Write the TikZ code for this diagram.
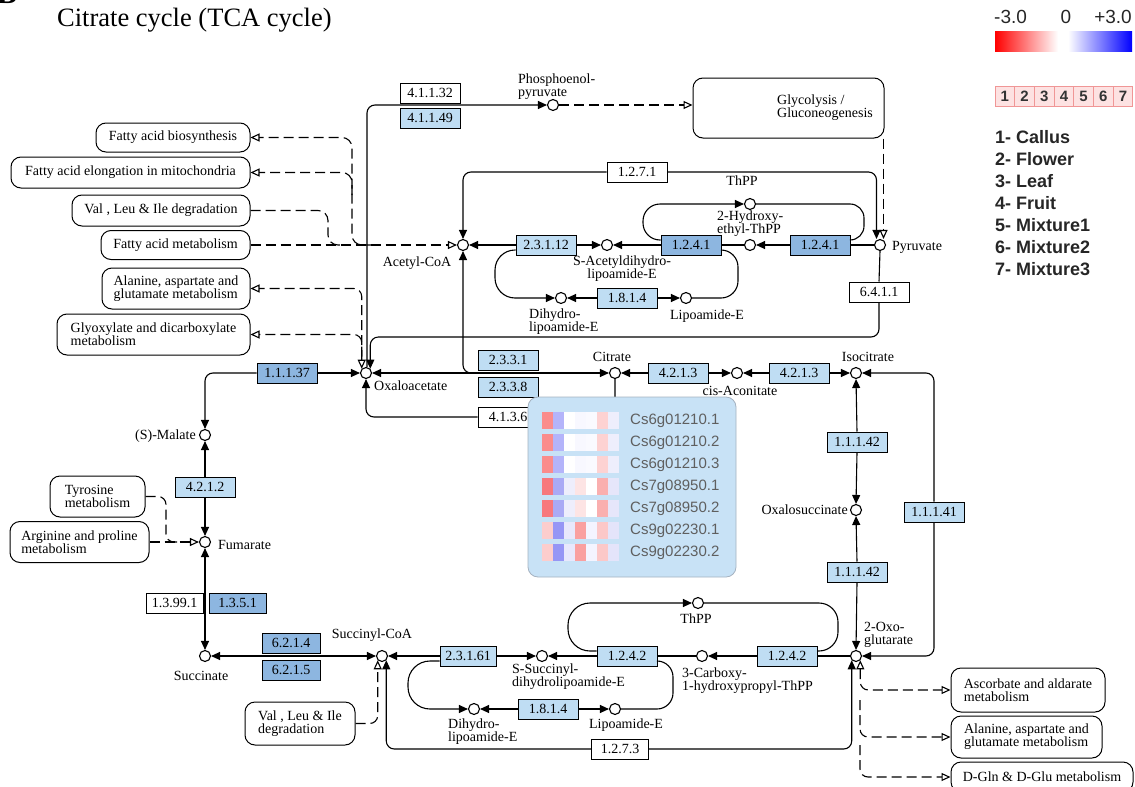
\documentclass[tikz,border=0pt]{standalone}
\usepackage{fontspec}
\setmainfont{Liberation Serif}
\newfontfamily\arialf{Liberation Sans}
\usetikzlibrary{arrows.meta}
\definecolor{enzlight}{RGB}{191,221,243}
\definecolor{enzdark}{RGB}{141,182,224}
\definecolor{popupbg}{RGB}{200,226,246}
\definecolor{popupline}{RGB}{165,178,192}
\definecolor{legpink}{RGB}{253,226,226}
\definecolor{legpinkline}{RGB}{240,150,150}
\definecolor{genegray}{RGB}{95,95,95}
% heatmap colours
\definecolor{hA1}{RGB}{250,140,140}\definecolor{hA2}{RGB}{180,180,250}\definecolor{hA3}{RGB}{255,255,255}
\definecolor{hA4}{RGB}{248,248,255}\definecolor{hA5}{RGB}{250,250,255}\definecolor{hA6}{RGB}{253,210,210}
\definecolor{hA7}{RGB}{238,238,252}
\definecolor{hB1}{RGB}{247,120,125}\definecolor{hB2}{RGB}{170,170,245}\definecolor{hB3}{RGB}{238,238,252}
\definecolor{hB4}{RGB}{253,228,228}\definecolor{hB5}{RGB}{255,255,255}\definecolor{hB6}{RGB}{250,175,175}
\definecolor{hB7}{RGB}{230,230,250}
\definecolor{hC1}{RGB}{252,205,205}\definecolor{hC2}{RGB}{150,150,245}\definecolor{hC3}{RGB}{232,232,252}
\definecolor{hC4}{RGB}{250,160,160}\definecolor{hC5}{RGB}{244,244,255}\definecolor{hC6}{RGB}{252,200,200}
\definecolor{hC7}{RGB}{228,228,250}
\begin{document}
\begin{tikzpicture}[x=1pt,y=-1pt,
  every node/.style={font=\fontsize{14}{12.8}\selectfont},
  enz/.style={draw, line width=1pt, minimum width=60pt, minimum height=20pt, inner sep=0pt, fill=white},
  enzL/.style={enz, fill=enzlight},
  enzD/.style={enz, fill=enzdark},
  cpd/.style={circle, draw, fill=white, line width=1.1pt, minimum size=11pt, inner sep=0pt},
  pbox/.style={draw, rounded corners=10pt, line width=1pt, align=left, inner sep=0pt, fill=white},
  lbl/.style={inner sep=0pt, align=left},
  con/.style={line width=1.1pt},
  arr/.style={con, -{Triangle[length=9pt,width=8pt]}},
  biarr/.style={con, {Triangle[length=9pt,width=8pt]}-{Triangle[length=9pt,width=8pt]}},
  dl/.style={con, dash pattern=on 10pt off 5pt},
  darr/.style={dl, -{Triangle[open,length=9pt,width=8pt]}},
  dbiarr/.style={dl, {Triangle[open,length=9pt,width=8pt]}-{Triangle[open,length=9pt,width=8pt]}},
  gene/.style={inner sep=0pt, anchor=west, text=genegray, font=\arialf\fontsize{15}{15}\selectfont},
  legtxt/.style={inner sep=0pt, anchor=west, text=black!85, font=\arialf\bfseries\fontsize{18}{18}\selectfont}
]
\useasboundingbox (0,0) rectangle (1135,787);

% ---------- title and legend ----------
\node[anchor=base west, inner sep=0pt, font=\bfseries\fontsize{30}{30}\selectfont] (fig) at (-3,3) {B};
\node[anchor=base west, inner sep=0pt, font=\fontsize{26.5}{26.5}\selectfont] (title) at (57,27) {Citrate cycle (TCA cycle)};
\node[inner sep=0pt, anchor=west, text=black!85, font=\arialf\fontsize{19}{19}\selectfont] (lm) at (994,17) {-3.0};
\node[inner sep=0pt, text=black!85, font=\arialf\fontsize{19}{19}\selectfont] (lz) at (1066,17) {0};
\node[inner sep=0pt, anchor=east, text=black!85, font=\arialf\fontsize{19}{19}\selectfont] (lp) at (1132,17) {+3.0};
\shade[left color=red, right color=white] (995,31) rectangle (1058,51);
\fill[white] (1058,31) rectangle (1068,51);
\shade[left color=white, right color=blue] (1068,31) rectangle (1132,51);
\foreach \i in {1,...,7}{
  \node[draw=legpinkline, fill=legpink, line width=0.8pt, minimum width=19.6pt, minimum height=20pt, inner sep=0pt,
        font=\arialf\bfseries\fontsize{15}{15}\selectfont, text=black!80] (s\i) at ({995+19.7*(\i-0.5)},96) {\i};
}
\node[legtxt] (k1) at (995,137) {1- Callus};
\node[legtxt] (k2) at (995,159) {2- Flower};
\node[legtxt] (k3) at (995,181) {3- Leaf};
\node[legtxt] (k4) at (995,203) {4- Fruit};
\node[legtxt] (k5) at (995,225) {5- Mixture1};
\node[legtxt] (k6) at (995,247) {6- Mixture2};
\node[legtxt] (k7) at (995,269) {7- Mixture3};

% ---------- pathway boxes ----------
\node[pbox, minimum width=191pt, minimum height=60pt] (glyc) at (788.5,108) {};
\node[lbl, anchor=west] (lglyc) at (777,108) {Glycolysis /\\Gluconeogenesis};
\node[pbox, minimum width=154pt, minimum height=29pt] (fab) at (173,137.5) {Fatty acid biosynthesis};
\node[pbox, minimum width=239pt, minimum height=31pt] (fae) at (130.5,172.5) {Fatty acid elongation in mitochondria};
\node[pbox, minimum width=178pt, minimum height=31pt] (vli) at (161,210.5) {Val , Leu \& Ile degradation};
\node[pbox, minimum width=149pt, minimum height=29pt] (fam) at (175.5,245) {Fatty acid metabolism};
\node[pbox, minimum width=148pt, minimum height=41pt] (ala) at (176,288.5) {Alanine, aspartate and\\glutamate metabolism};
\node[pbox, minimum width=193pt, minimum height=41pt] (gly) at (153.5,334.5) {Glyoxylate and dicarboxylate\\metabolism};
\node[pbox, minimum width=95pt, minimum height=41pt] (tyr) at (97.5,496.5) {Tyrosine\\metabolism};
\node[pbox, minimum width=139pt, minimum height=41pt] (arg) at (79.5,542) {Arginine and proline\\metabolism};
\node[pbox, minimum width=110pt, minimum height=43pt] (vlib) at (300,723.5) {Val , Leu \& Ile\\degradation};
\node[pbox, minimum width=154pt, minimum height=44pt] (asc) at (1028,690) {Ascorbate and aldarate\\metabolism};
\node[pbox, minimum width=151pt, minimum height=42pt] (alab) at (1026.5,737) {Alanine, aspartate and\\glutamate metabolism};
\node[pbox, minimum width=182pt, minimum height=30pt] (dgln) at (1042,777) {D-Gln \& D-Glu metabolism};

% ---------- compounds ----------
\node[cpd] (pep) at (553,105) {};
\node[cpd] (acoa) at (463,245) {};
\node[cpd] (sacet) at (607,245) {};
\node[cpd] (hyd) at (750,245) {};
\node[cpd] (pyr) at (880,245) {};
\node[cpd] (thppa) at (750,204) {};
\node[cpd] (dihyda) at (561,298) {};
\node[cpd] (lipa) at (686,298) {};
\node[cpd] (oaa) at (366,373) {};
\node[cpd] (cit) at (615,373) {};
\node[cpd] (cisac) at (737,373) {};
\node[cpd] (isocit) at (856,373) {};
\node[cpd] (oxsuc) at (856,510) {};
\node[cpd] (oxo) at (856,656) {};
\node[cpd] (malate) at (205,435) {};
\node[cpd] (fum) at (205,542) {};
\node[cpd] (succ) at (205,656) {};
\node[cpd] (scoa) at (382,656) {};
\node[cpd] (ssucc) at (542,656) {};
\node[cpd] (carb) at (702,656) {};
\node[cpd] (thppb) at (698,603) {};
\node[cpd] (dihydb) at (474,709) {};
\node[cpd] (lipb) at (615,709) {};

% ---------- compound labels ----------
\node[lbl, anchor=west] (lpep) at (518,87) {Phosphoenol-\\pyruvate};
\node[lbl] (lthppa) at (742,181) {ThPP};
\node[lbl, anchor=west] (lhyd) at (717,224) {2-Hydroxy-\\ethyl-ThPP};
\node[lbl, anchor=west] (lpyr) at (892,247) {Pyruvate};
\node[lbl] (lacoa) at (417,263) {Acetyl-CoA};
\node[lbl, align=center] (lsacet) at (622,269) {S-Acetyldihydro-\\lipoamide-E};
\node[lbl, anchor=west] (ldihyda) at (529,322) {Dihydro-\\lipoamide-E};
\node[lbl] (llipa) at (707,316) {Lipoamide-E};
\node[lbl, anchor=west] (loaa) at (374,386) {Oxaloacetate};
\node[lbl] (lcit) at (612,357) {Citrate};
\node[lbl] (lcisac) at (740,391) {cis-Aconitate};
\node[lbl] (liso) at (868,357) {Isocitrate};
\node[lbl, anchor=east] (loxs) at (848,510) {Oxalosuccinate};
\node[lbl, anchor=west] (loxo) at (864,635) {2-Oxo-\\glutarate};
\node[lbl, anchor=east] (lmal) at (196,436) {(S)-Malate};
\node[lbl, anchor=west] (lfum) at (218,545) {Fumarate};
\node[lbl] (lsucc) at (201,676) {Succinate};
\node[lbl] (lscoa) at (372,635) {Succinyl-CoA};
\node[lbl, anchor=west] (lssucc) at (512,677) {S-Succinyl-\\dihydrolipoamide-E};
\node[lbl] (lthppb) at (696,619) {ThPP};
\node[lbl, anchor=west] (lcarb) at (682,681) {3-Carboxy-\\1-hydroxypropyl-ThPP};
\node[lbl, anchor=west] (ldihydb) at (448,732) {Dihydro-\\lipoamide-E};
\node[lbl] (llipb) at (626,725) {Lipoamide-E};

% ---------- enzymes ----------
\node[enz]  (e41132) at (430,93) {4.1.1.32};
\node[enzL] (e41149) at (430,118) {4.1.1.49};
\node[enz]  (e1271) at (637,172) {1.2.7.1};
\node[enzL] (e2312) at (546,245) {2.3.1.12};
\node[enzD] (e1241a) at (691,245) {1.2.4.1};
\node[enzD] (e1241b) at (820,245) {1.2.4.1};
\node[enzL] (e1814a) at (627,298) {1.8.1.4};
\node[enz]  (e6411) at (879,292) {6.4.1.1};
\node[enzD] (e11137) at (287,373) {1.1.1.37};
\node[enzL] (e2331) at (508,360) {2.3.3.1};
\node[enzL] (e2338) at (508,387) {2.3.3.8};
\node[enz]  (e4136) at (508,417) {4.1.3.6};
\node[enzL] (e4213a) at (678,373) {4.2.1.3};
\node[enzL] (e4213b) at (799,373) {4.2.1.3};
\node[enzL] (e11142a) at (857,442) {1.1.1.42};
\node[enzL] (e11142b) at (857,572) {1.1.1.42};
\node[enzL] (e11141) at (934,512) {1.1.1.41};
\node[enzL] (e4212) at (205,487) {4.2.1.2};
\node[enz, minimum width=57pt]  (e13991) at (174.5,603) {1.3.99.1};
\node[enzD, minimum width=57pt] (e1351) at (237.5,603) {1.3.5.1};
\node[enzD, minimum width=58pt] (e6214) at (291,643) {6.2.1.4};
\node[enzD, minimum width=58pt] (e6215) at (291,670) {6.2.1.5};
\node[enzL, minimum width=56pt] (e23161) at (468,656) {2.3.1.61};
\node[enzL] (e1242a) at (627,656) {1.2.4.2};
\node[enzL] (e1242b) at (787,656) {1.2.4.2};
\node[enzL] (e1814b) at (548,709) {1.8.1.4};
\node[enz, minimum width=57pt]  (e1273) at (620,749) {1.2.7.3};

% ---------- connectors: upper part ----------
\draw[arr, rounded corners=8pt] ([xshift=1pt]oaa.north) |- (pep.west);
\draw[darr] (pep.east) -- (glyc.west |- pep.east);
\draw[darr] ([xshift=-1pt]glyc.south east) -- ([xshift=3.5pt]pyr.north);
\draw[arr, rounded corners=8pt] (e1271.east) -| ([xshift=-3.5pt]pyr.north);
\draw[arr, rounded corners=8pt] (e1271.west) -| (acoa.north);
\draw[con] (pyr.west) -- (e1241b.east);
\draw[arr] (e1241b.west) -- (hyd.east);
\draw[con] (hyd.west) -- (e1241a.east);
\draw[arr] (e1241a.west) -- (sacet.east);
\draw[arr] (e2312.east) -- (sacet.west);
\draw[arr] (e2312.west) -- (acoa.east);
\draw[arr, rounded corners=17pt] ([yshift=5pt]e1241a.west) -- (643,240) -- (643,204) -- (thppa.west);
\draw[con, rounded corners=14pt] (thppa.east) -- (864,204) -- (864,240) -- ([yshift=5pt]e1241b.east);
\draw[arr, rounded corners=20pt] ([yshift=-5pt]e2312.west) -- (495,250) -- (495,298) -- (dihyda.west);
\draw[arr] (e1814a.west) -- (dihyda.east);
\draw[arr] (e1814a.east) -- (lipa.west);
\draw[con, rounded corners=17pt] (lipa.east) -- (738,298) -- (738,250) -- ([yshift=-5pt]e1241a.east);

% side pathways to acetyl-CoA
\draw[darr] (fam.east) -- (acoa.west);
\coordinate (j1) at (375,245);
\draw[darr, rounded corners=10pt] (j1) -- (352,245) -- (352,137.5) -- (fab.east);
\coordinate (j2) at (352,195);
\draw[darr, rounded corners=10pt] (j2) -- (352,172.5) -- (fae.east);
\coordinate (j3) at (342,245);
\draw[dl, rounded corners=10pt] (vli.east) -- (328,210.5) -- (328,245) -- (j3);

% pyruvate -> oxaloacetate
\draw[con] (pyr.south) -- (e6411.north);
\coordinate (j4) at (600,337);
\draw[arr, rounded corners=8pt] (e6411.south) |- (j4) -| (oaa.north east);
% side pathways to oxaloacetate
\draw[dbiarr, rounded corners=8pt] (oaa.north west) |- (ala.east);
\draw[darr, rounded corners=8pt] ([yshift=12pt]oaa.north west) |- (gly.east);

% ---------- connectors: cycle ----------
\draw[arr, rounded corners=8pt] (e11137.west) -| (malate.north);
\draw[arr] (e11137.east) -- (oaa.west);
\draw[biarr] (oaa.east) -- (cit.west);
\coordinate (j5) at (480,373);
\draw[arr, rounded corners=8pt] (j5) -| (acoa.south);
\draw[arr, rounded corners=8pt] (e4136.west) -| (oaa.south);
\draw[con, rounded corners=8pt] (e4136.east) -| (cit.south);
\draw[arr] (e4213a.west) -- (cit.east);
\draw[arr] (e4213a.east) -- (cisac.west);
\draw[arr] (e4213b.west) -- (cisac.east);
\draw[arr] (e4213b.east) -- (isocit.west);
\draw[arr] (e11142a.north) -- (isocit.south);
\draw[arr] (e11142a.south) -- (oxsuc.north);
\draw[arr] (e11142b.north) -- (oxsuc.south);
\draw[arr] (e11142b.south) -- (oxo.north);
\draw[arr, rounded corners=8pt] (e11141.north) |- (isocit.east);
\draw[arr, rounded corners=8pt] (e11141.south) |- (oxo.east);
\draw[arr] (e4212.north) -- (malate.south);
\draw[arr] (e4212.south) -- (fum.north);
\draw[darr] (arg.east) -- (fum.west);
\coordinate (j6) at (178,542);
\draw[dl, rounded corners=8pt] (tyr.east) -- (166,496.5) -- (166,542) -- (j6);
\draw[biarr] (fum.south) -- (succ.north);
\draw[biarr] (succ.east) -- (scoa.west);

% ---------- connectors: lower part ----------
\draw[con] (oxo.west) -- (e1242b.east);
\draw[arr] (e1242b.west) -- (carb.east);
\draw[con] (carb.west) -- (e1242a.east);
\draw[arr] (e1242a.west) -- (ssucc.east);
\draw[arr] (e23161.east) -- (ssucc.west);
\draw[arr] (e23161.west) -- (scoa.east);
\draw[arr, rounded corners=22pt] ([yshift=5pt]e1242a.west) -- (568,651) -- (568,603) -- (thppb.west);
\draw[con, rounded corners=19pt] (thppb.east) -- (838,603) -- (838,651) -- ([yshift=5pt]e1242b.east);
\draw[arr, rounded corners=22pt] ([yshift=-5pt]e23161.west) -- (408,661) -- (408,709) -- (dihydb.west);
\draw[arr] (e1814b.west) -- (dihydb.east);
\draw[arr] (e1814b.east) -- (lipb.west);
\draw[con, rounded corners=16pt] (lipb.east) -- (673,709) -- (673,661) -- ([yshift=-5pt]e1242a.east);
\draw[darr, rounded corners=8pt] (vlib.east) -| (scoa.south west);
\draw[arr, rounded corners=8pt] (e1273.west) -| (scoa.south east);
\draw[arr, rounded corners=8pt] (e1273.east) -| (oxo.south west);
\draw[dbiarr, rounded corners=8pt] (oxo.south east) |- (asc.west);
\coordinate (j7) at (860,700);
\draw[darr, rounded corners=8pt] (j7) |- (alab.west);
\coordinate (j8) at (860,745);
\draw[darr, rounded corners=8pt] (j8) |- (dgln.west);

% ---------- popup with heatmap ----------
\node[draw=popupline, fill=popupbg, line width=0.8pt, rounded corners=10pt, minimum width=208pt, minimum height=180pt, inner sep=0pt] (popup) at (632,487) {};
\foreach \row/\hset/\gname in {0/A/Cs6g01210.1, 1/A/Cs6g01210.2, 2/A/Cs6g01210.3, 3/B/Cs7g08950.1, 4/B/Cs7g08950.2, 5/C/Cs9g02230.1, 6/C/Cs9g02230.2}{
  \foreach \col in {1,...,7}{
    \fill[fill=h\hset\col] ({542+11*(\col-1)},{412+22*\row}) rectangle ++(11,17);
  }
  \node[gene] (g\row) at (630,{420.5+22*\row}) {\gname};
}
\end{tikzpicture}
\end{document}
